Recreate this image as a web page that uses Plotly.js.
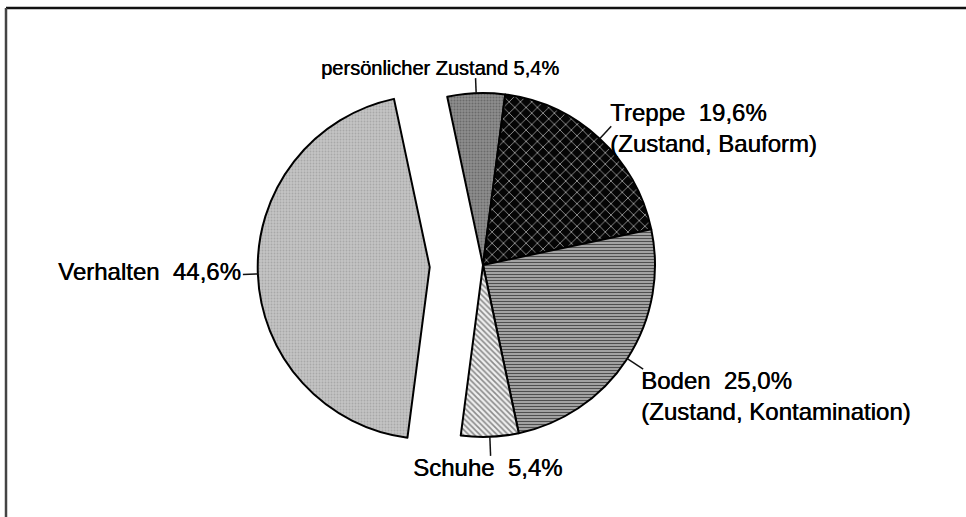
<!DOCTYPE html>
<html>
<head>
<meta charset="utf-8">
<script src="https://cdn.plot.ly/plotly-3.0.1.min.js"></script>
<style>html,body{margin:0;padding:0;background:#fff;}#chart{width:966px;height:517px;}</style>
</head>
<body>
<div id="chart"></div>
<script>
// ---- data ----
var labels  = ['persönlicher Zustand', 'Treppe', 'Boden', 'Schuhe', 'Verhalten'];
var values  = [5.4, 19.6, 25.0, 5.4, 44.6];
var details = ['', '(Zustand, Bauform)', '(Zustand, Kontamination)', '', ''];
var pulls   = [0, 0, 0, 0, 0.31];

// ---- styling / layout ----
var W = 966, H = 517;
var cx = 483, cy = 265, R = 172, rotation = -12;
var maxPull = Math.max.apply(null, pulls);
var half = R * (1 + maxPull);
var domY = [1 - (cy + half) / H, 1 - (cy - half) / H];
var domX = [0.05, 0.95];

var patShapes = ['.', 'x', '-', '\\', '.'];
var patBg     = ['#8e8e8e', '#050505', '#b4b4b4', '#efefef', '#c4c4c4'];
var patFg     = ['#6a6a6a', '#c8c8c8', '#4e4e4e', '#8a8a8a', '#a8a8a8'];
var patSize   = [3, 8, 3, 4, 3];
var patSolid  = [0.35, 0.16, 0.45, 0.4, 0.3];

// label placement (pixels): anchor point, alignment, font size, separator
var labelPos = [
  {x: 440, y: 68,    xa: 'center', size: 20, sep: '\u00a0'},
  {x: 608, y: 128,   xa: 'left',   size: 24, sep: '\u00a0\u00a0'},
  {x: 639, y: 395.5, xa: 'left',   size: 24, sep: '\u00a0\u00a0'},
  {x: 487, y: 467,   xa: 'center', size: 24, sep: '\u00a0\u00a0'},
  {x: 243, y: 271,   xa: 'right',  size: 24, sep: '\u00a0\u00a0'}
];
var leaderLen = [15, 17, 19, 19, 15];

function fmt(v) { return v.toFixed(1).replace('.', ',') + '%'; }
function px2x(p) { return p / W; }
function px2y(p) { return 1 - p / H; }

var total = values.reduce(function (a, b) { return a + b; }, 0);
var shapes = [];
var annotations = [];
var acc = 0;
for (var i = 0; i < values.length; i++) {
  var a0 = rotation + 360 * acc / total;
  acc += values[i];
  var a1 = rotation + 360 * acc / total;
  var mid = (a0 + a1) / 2 * Math.PI / 180;
  var sx = Math.sin(mid), sy = -Math.cos(mid);
  var ox = cx + sx * pulls[i] * R, oy = cy + sy * pulls[i] * R;
  var p1x = ox + sx * R, p1y = oy + sy * R;
  var p2x = ox + sx * (R + leaderLen[i]), p2y = oy + sy * (R + leaderLen[i]);
  shapes.push({type: 'line', xref: 'paper', yref: 'paper',
    x0: px2x(p1x), y0: px2y(p1y), x1: px2x(p2x), y1: px2y(p2y),
    line: {color: '#111', width: 1.5}});
  var lp = labelPos[i];
  var txt = labels[i] + lp.sep + fmt(values[i]);
  if (details[i]) txt += '<br>' + details[i];
  annotations.push({xref: 'paper', yref: 'paper', x: px2x(lp.x), y: px2y(lp.y),
    xanchor: lp.xa, yanchor: 'middle', align: lp.xa === 'center' ? 'center' : 'left',
    showarrow: false, text: txt,
    font: {family: 'Liberation Sans, Arial, sans-serif', size: lp.size, color: '#000',
           shadow: '0.5px 0 0 #000'}});
}

// frame (top and left edges visible)
shapes.push({type: 'line', xref: 'paper', yref: 'paper', x0: px2x(6), y0: px2y(8), x1: 1.01, y1: px2y(8),
  line: {color: '#111', width: 2.5}});
shapes.push({type: 'line', xref: 'paper', yref: 'paper', x0: px2x(6), y0: px2y(8), x1: px2x(6), y1: -0.01,
  line: {color: '#444', width: 2.5}});

var trace = {
  type: 'pie',
  labels: labels,
  values: values,
  pull: pulls,
  sort: false,
  direction: 'clockwise',
  rotation: rotation,
  textinfo: 'none',
  hoverinfo: 'none',
  domain: {x: domX, y: domY},
  marker: {
    colors: patBg,
    line: {color: '#000', width: 2},
    pattern: {shape: patShapes, bgcolor: patBg, fgcolor: patFg, size: patSize, solidity: patSolid, fillmode: 'replace'}
  }
};

var layout = {
  width: W, height: H,
  margin: {l: 0, r: 0, t: 0, b: 0},
  paper_bgcolor: '#fff',
  showlegend: false,
  hovermode: false,
  shapes: shapes,
  annotations: annotations
};

Plotly.newPlot('chart', [trace], layout, {staticPlot: true, displayModeBar: false});
</script>
</body>
</html>
